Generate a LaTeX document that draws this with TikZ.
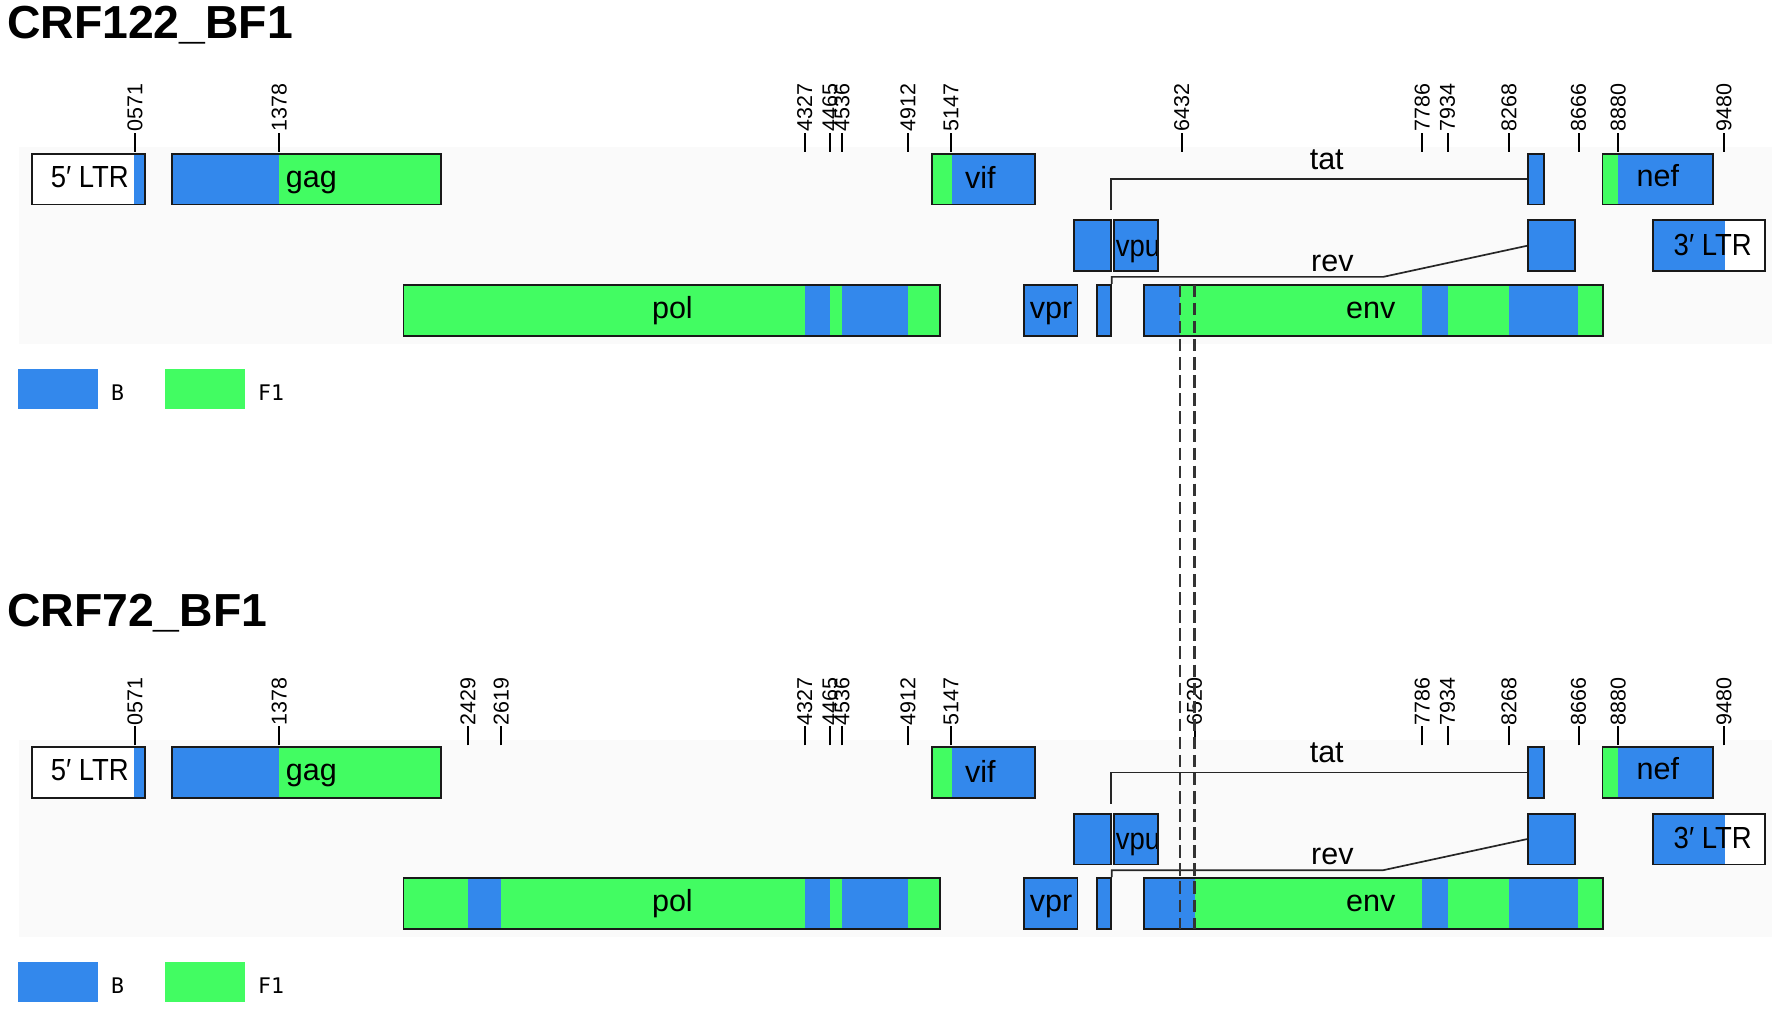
\documentclass[tikz,border=0pt]{standalone}
\usepackage{fontspec}
\setmainfont{Liberation Sans}
\newfontfamily\legmono{DejaVu Sans Mono}
\usetikzlibrary{fit}
\definecolor{segB}{RGB}{51,136,236}
\definecolor{segF}{RGB}{66,252,98}
\definecolor{bandbg}{RGB}{250,250,250}
\definecolor{dashc}{RGB}{51,51,51}
\tikzset{
  gbox/.style={draw=black!90, line width=0.8pt, inner sep=0pt},
  glabel/.style={font=\fontsize{13.5}{14}\selectfont, anchor=base, inner sep=0pt},
  ticklab/.style={font=\fontsize{9.5}{10}\selectfont, rotate=90, anchor=west, inner sep=0pt},
  tickline/.style={line width=0.9pt},
  conn/.style={line width=0.75pt, draw=black!85},
  ttl/.style={font=\fontsize{20.5}{22}\selectfont\bfseries, anchor=base west, inner sep=0pt},
  legtxt/.style={font=\legmono\fontsize{9.5}{10}\selectfont, anchor=base west, inner sep=0pt},
  cutline/.style={dashc, line width=1pt, dash pattern=on 5.5pt off 2.5pt},
}
% #1 suffix, #2 extra pol segments, #3 env first blue end, #4 ticks
\newcommand\genepanel[4]{%
  \fill[bandbg] (17,130) rectangle (1568,304);
  % 5' LTR
  \fill[white] (28,136) rectangle (119,181);
  \fill[segB] (119,136) rectangle (128,181);
  \node[gbox, fit={(28,136) (128,181)}] (ltrL#1) {};
  \node[glabel, xscale=0.9] (ltrLt#1) at (79.5,166) {5′ LTR};
  % gag
  \fill[segB] (152,136) rectangle (247,181);
  \fill[segF] (247,136) rectangle (390,181);
  \node[gbox, fit={(152,136) (390,181)}] (gag#1) {};
  \node[glabel] (gagt#1) at (275.5,166) {gag};
  % pol
  \fill[segF] (357,252) rectangle (832,297);
  #2
  \fill[segB] (712,252) rectangle (734.5,297);
  \fill[segB] (745,252) rectangle (803.5,297);
  \node[gbox, fit={(357,252) (832,297)}] (pol#1) {};
  \node[glabel] (polt#1) at (595,282) {pol};
  % vif
  \fill[segF] (825,136) rectangle (842,181);
  \fill[segB] (842,136) rectangle (915.5,181);
  \node[gbox, fit={(825,136) (915.5,181)}] (vif#1) {};
  \node[glabel] (vift#1) at (867.5,167) {vif};
  % vpr
  \fill[segB] (906,252) rectangle (953.5,297);
  \node[gbox, fit={(906,252) (953.5,297)}] (vpr#1) {};
  \node[glabel] (vprt#1) at (930,282) {vpr};
  % tat exon 1 (row 2) and vpu
  \fill[segB] (950,195) rectangle (983,240);
  \node[gbox, fit={(950,195) (983,240)}] (tatA#1) {};
  \fill[segB] (986,195) rectangle (1025,240);
  \node[glabel, xscale=0.9] (vput#1) at (1007,227) {vpu};
  \node[gbox, fit={(986,195) (1025,240)}] (vpu#1) {};
  % rev exon 1
  \fill[segB] (970.5,252) rectangle (983,297);
  \node[gbox, fit={(970.5,252) (983,297)}] (revA#1) {};
  % env
  \fill[segB] (1012,252) rectangle (#3,297);
  \fill[segF] (#3,252) rectangle (1258.4,297);
  \fill[segB] (1258.4,252) rectangle (1281,297);
  \fill[segF] (1281,252) rectangle (1335.3,297);
  \fill[segB] (1335.3,252) rectangle (1396.6,297);
  \fill[segF] (1396.6,252) rectangle (1418.5,297);
  \node[gbox, fit={(1012,252) (1418.5,297)}] (env#1) {};
  \node[glabel] (envt#1) at (1213,282) {env};
  % tat exon 2
  \fill[segB] (1352,136) rectangle (1366,181);
  \node[gbox, fit={(1352,136) (1366,181)}] (tatB#1) {};
  % rev exon 2
  \fill[segB] (1352,195) rectangle (1394,240);
  \node[gbox, fit={(1352,195) (1394,240)}] (revB#1) {};
  % nef
  \fill[segF] (1418,136) rectangle (1432,181);
  \fill[segB] (1432,136) rectangle (1515.5,181);
  \node[gbox, fit={(1418,136) (1515.5,181)}] (nef#1) {};
  \node[glabel] (neft#1) at (1467,165) {nef};
  % 3' LTR
  \fill[segB] (1463,195) rectangle (1526.4,240);
  \fill[white] (1526.4,195) rectangle (1562,240);
  \node[gbox, fit={(1463,195) (1562,240)}] (ltrR#1) {};
  \node[glabel, xscale=0.9] (ltrRt#1) at (1515.5,226) {3′ LTR};
  % tat / rev connectors
  \coordinate (tatS#1) at (983,186);
  \draw[conn] (tatS#1) |- (tatB#1.west);
  \node[glabel] (tatt#1) at (1174,150) {tat};
  \coordinate (revK#1) at (1224,245);
  \draw[conn] (revA#1.north east) |- (revK#1) -- (revB#1.west);
  \node[glabel] (revt#1) at (1179,240) {rev};
  % ticks
  \foreach \x/\t [count=\i] in {#4} {
    \draw[tickline] (\x,134.5) -- (\x,117.5) node[ticklab] (tk#1\i) {\t};
  }
  % legend
  \fill[segB] (16,326.5) rectangle (87,362);
  \node[legtxt] (legB#1) at (98,354) {B};
  \fill[segF] (146,326.5) rectangle (217,362);
  \node[legtxt] (legF#1) at (228,354) {F1};
}
\begin{document}
\begin{tikzpicture}[x=0.5pt,y=-0.5pt]
\useasboundingbox (0,0) rectangle (1568,892);
\node[ttl] (title1) at (6,34) {CRF122\_BF1};
\genepanel{a}{}{1044}{119.5/0571,247/1378,712/4327,734.5/4465,745/4536,803.5/4912,841.6/5147,1045.7/6432,1258.4/7786,1280.9/7934,1335.3/8268,1396.8/8666,1432/8880,1525.6/9480}
\begin{scope}[yshift=-262.5pt]
\genepanel{b}{\fill[segB] (414,252) rectangle (443.5,297);}{1057}{119.5/0571,247/1378,414/2429,443.6/2619,712/4327,734.5/4465,745/4536,803.5/4912,841.6/5147,1057/6520,1258.4/7786,1280.9/7934,1335.3/8268,1396.8/8666,1432/8880,1525.6/9480}
\end{scope}
\node[ttl] (title2) at (6,554) {CRF72\_BF1};
% dashed breakpoint lines
\coordinate (cutAs) at (1044,252);
\coordinate (cutAe) at (1044,822);
\coordinate (cutBs) at (1057,252);
\coordinate (cutBe) at (1057,822);
\draw[cutline] (cutAs) -- (cutAe);
\draw[cutline] (cutBs) -- (cutBe);
\end{tikzpicture}
\end{document}
